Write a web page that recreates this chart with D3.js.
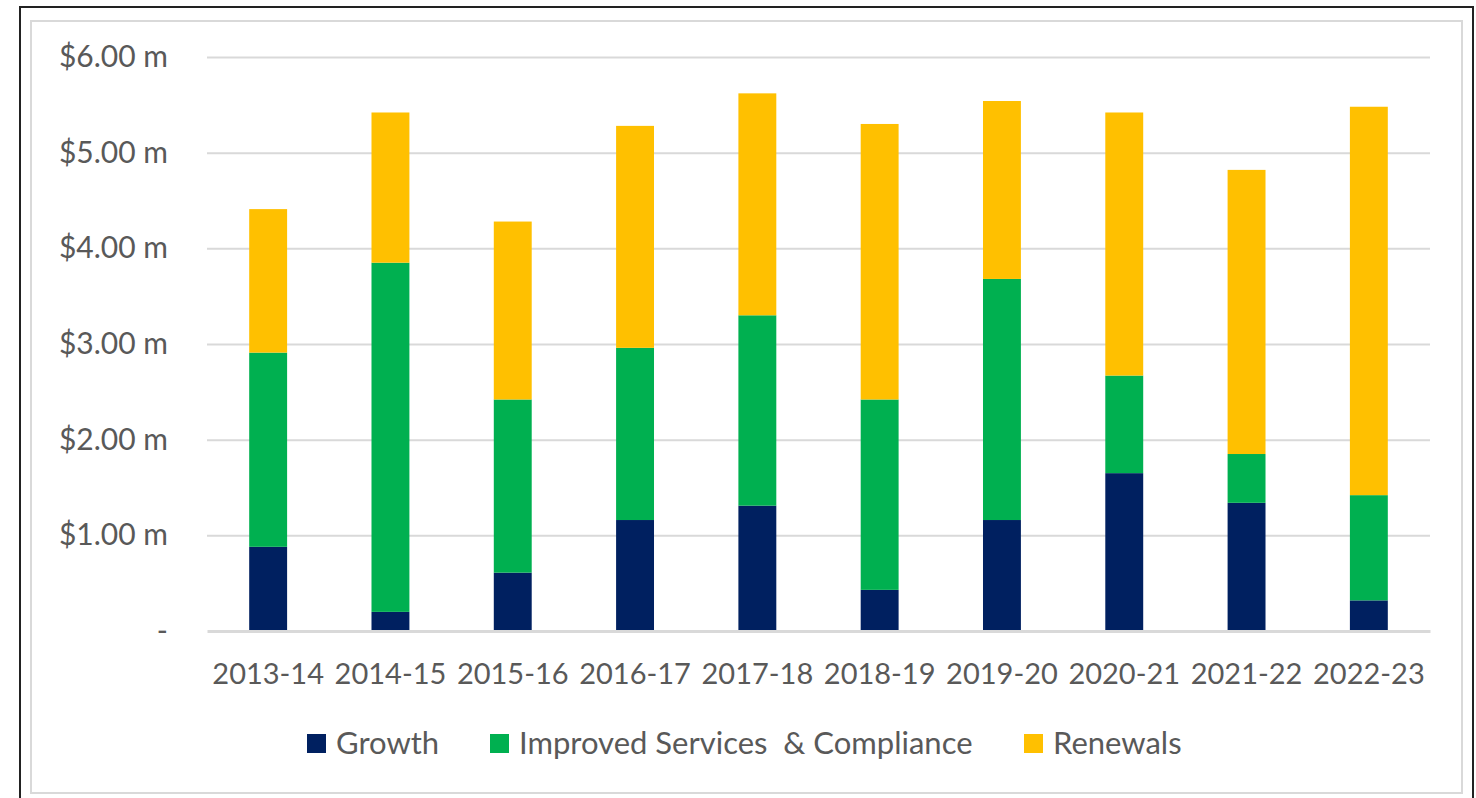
<!DOCTYPE html>
<html>
<head>
<meta charset="utf-8">
<script src="https://cdn.jsdelivr.net/npm/d3@7"></script>
<style>
  body { margin: 0; background: #fff; }
  text { font-family: Lato, "Open Sans", sans-serif; fill: #595959; }
</style>
</head>
<body>
<svg id="chart"></svg>
<script>
// Chart data (values in $ millions)
const years = ["2013-14", "2014-15", "2015-16", "2016-17", "2017-18",
               "2018-19", "2019-20", "2020-21", "2021-22", "2022-23"];
const seriesNames = ["Growth", "Improved Services  & Compliance", "Renewals"];
const growth   = [0.88, 0.20, 0.61, 1.16, 1.31, 0.43, 1.16, 1.65, 1.34, 0.32];
const improved = [2.03, 3.65, 1.81, 1.80, 1.99, 1.99, 2.52, 1.02, 0.51, 1.10];
const renewals = [1.50, 1.57, 1.86, 2.32, 2.32, 2.88, 1.86, 2.75, 2.97, 4.06];
const yTicks = [0, 1, 2, 3, 4, 5, 6];
const yTickLabels = ["-", "$1.00 m", "$2.00 m", "$3.00 m", "$4.00 m", "$5.00 m", "$6.00 m"];
const colors = ["#002060", "#00B050", "#FFC000"];

const W = 1476, H = 798;
const margin = {top: 57, right: 46, bottom: 167, left: 207};
const width = W - margin.left - margin.right;
const height = H - margin.top - margin.bottom;

const svgRoot = d3.select("#chart").attr("width", W).attr("height", H);

// frame: outer dark border and inner light border
svgRoot.append("rect")
  .attr("x", 20).attr("y", 7).attr("width", 1453).attr("height", 800)
  .attr("fill", "none").attr("stroke", "#222").attr("stroke-width", 2);
svgRoot.append("rect")
  .attr("x", 31).attr("y", 21).attr("width", 1431).attr("height", 772)
  .attr("fill", "none").attr("stroke", "#d9d9d9").attr("stroke-width", 2);

const svg = svgRoot.append("g")
  .attr("transform", `translate(${margin.left},${margin.top})`);

// table for stacking
const table = years.map((y, i) => ({
  year: y,
  [seriesNames[0]]: growth[i],
  [seriesNames[1]]: improved[i],
  [seriesNames[2]]: renewals[i]
}));
const stacked = d3.stack().keys(seriesNames)(table);

const xScale = d3.scaleBand().domain(years).range([0, width]).paddingInner(0.69).paddingOuter(0.345);
const yScale = d3.scaleLinear().domain([0, 6]).range([height, 0]);

// gridlines
svg.append("g")
  .attr("class", "grid")
  .call(d3.axisLeft(yScale).tickValues(yTicks.slice(1)).tickSize(-width).tickFormat(""))
  .call(g => g.select(".domain").remove())
  .call(g => g.selectAll("line").attr("stroke", "#d9d9d9").attr("stroke-width", 2));

// y axis labels
svg.append("g")
  .attr("id", "y-axis")
  .call(d3.axisLeft(yScale).tickValues(yTicks).tickSize(0).tickPadding(39)
    .tickFormat((d, i) => yTickLabels[i]))
  .call(g => g.select(".domain").remove())
  .call(g => g.selectAll("text").style("font-size", "30px").attr("fill", "#595959"));

// bars
svg.selectAll(".series")
  .data(stacked)
  .enter().append("g")
  .attr("class", "series")
  .attr("fill", (d, i) => colors[i])
  .selectAll("rect")
  .data(d => d)
  .enter().append("rect")
  .attr("x", d => xScale(d.data.year))
  .attr("y", d => yScale(d[1]))
  .attr("width", xScale.bandwidth())
  .attr("height", d => yScale(d[0]) - yScale(d[1]));

// x axis
svg.append("g")
  .attr("id", "x-axis")
  .attr("transform", `translate(0,${height})`)
  .call(d3.axisBottom(xScale).tickSize(0).tickPadding(32))
  .call(g => g.select(".domain").attr("stroke", "#d9d9d9").attr("stroke-width", 3))
  .call(g => g.selectAll("text").style("font-size", "29px").attr("fill", "#595959"));

// legend
const legendX = [307, 490, 1024];
const legend = svgRoot.append("g").attr("class", "legend");
seriesNames.forEach((name, i) => {
  const item = legend.append("g").attr("transform", `translate(${legendX[i]},734)`);
  item.append("rect").attr("width", 19).attr("height", 19).attr("fill", colors[i]);
  item.append("text")
    .attr("x", 29).attr("y", 20)
    .style("font-size", "31px")
    .style("white-space", "pre")
    .text(name);
});
</script>
</body>
</html>
